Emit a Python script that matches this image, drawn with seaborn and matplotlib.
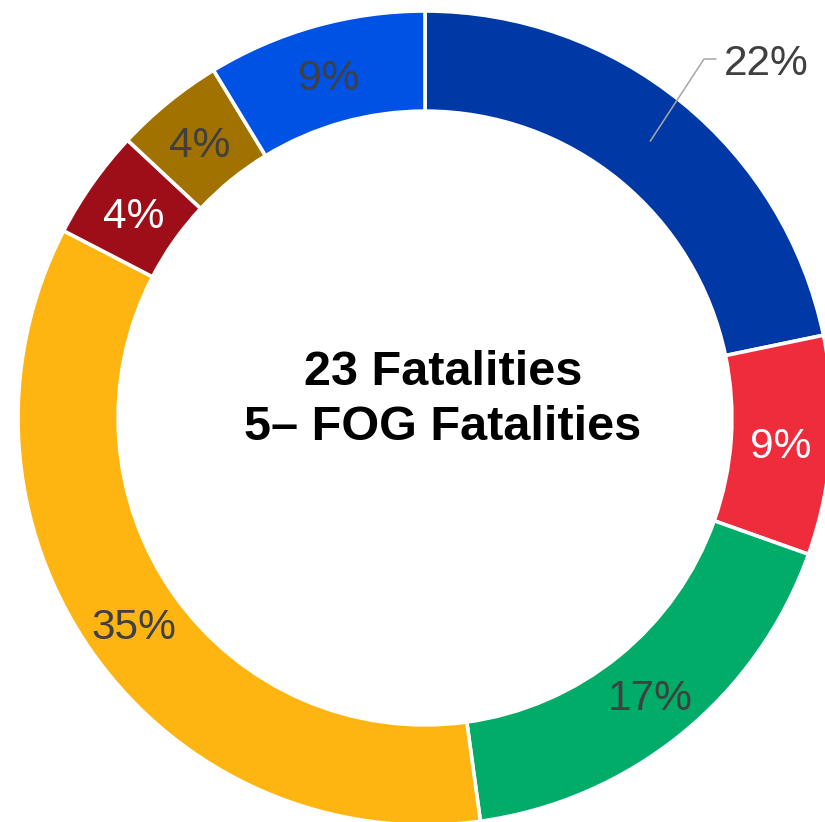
import numpy as np
import matplotlib
matplotlib.use("Agg")
import matplotlib.pyplot as plt
import seaborn as sns

# fatalities per category, clockwise from 12 o'clock
counts = [5, 2, 4, 8, 1, 1, 2]
colors = ["#0039A6", "#EE2C3B", "#00AC68", "#FFB511", "#9E0E19", "#A27200", "#0052E5"]
label_colors = ["#404040", "white", "#404040", "#404040", "white", "#404040", "#404040"]
center_lines = ["23 Fatalities", "5\u2013 FOG Fatalities"]

sns.set_theme(style="white")
plt.rcParams["font.family"] = ["Liberation Sans", "DejaVu Sans"]

fig = plt.figure(figsize=(8.25, 8.22), dpi=100)
ax = fig.add_axes([0, 0, 1, 1])

ring = 0.246
wedges, _ = ax.pie(counts, colors=colors, startangle=90, counterclock=False,
                   radius=1.0, wedgeprops=dict(width=ring, edgecolor="white", linewidth=2.6))

total = sum(counts)
pcts = ["{:.0f}%".format(c / total * 100) for c in counts]
r_lab = 1.0 - ring / 2
for i, w in enumerate(wedges):
    ang = np.deg2rad((w.theta1 + w.theta2) / 2)
    x, y = r_lab * np.cos(ang), r_lab * np.sin(ang)
    if i == 0:
        # first slice gets an outside label with a leader line
        ax.plot([x, 0.6855, 0.715], [y, 0.882, 0.882], color="#A6A6A6", lw=1.1)
        ax.text(0.735, 0.843, pcts[i], ha="left", va="baseline",
                fontsize=30.5, color=label_colors[i])
    else:
        ax.text(x, y, pcts[i], ha="center", va="center_baseline",
                fontsize=30.5, color=label_colors[i])

ax.text(0.045, 0.081, center_lines[0], ha="center", va="baseline",
        fontsize=35, fontweight="bold", color="black")
ax.text(0.044, -0.054, center_lines[1], ha="center", va="baseline",
        fontsize=35, fontweight="bold", color="black")

ax.set_xlim(-425 / 407, 400 / 407)
ax.set_ylim(-(822 - 418) / 407, 418 / 407)
ax.set_aspect("auto")
ax.axis("off")

fig.savefig("out.png", dpi=100)
